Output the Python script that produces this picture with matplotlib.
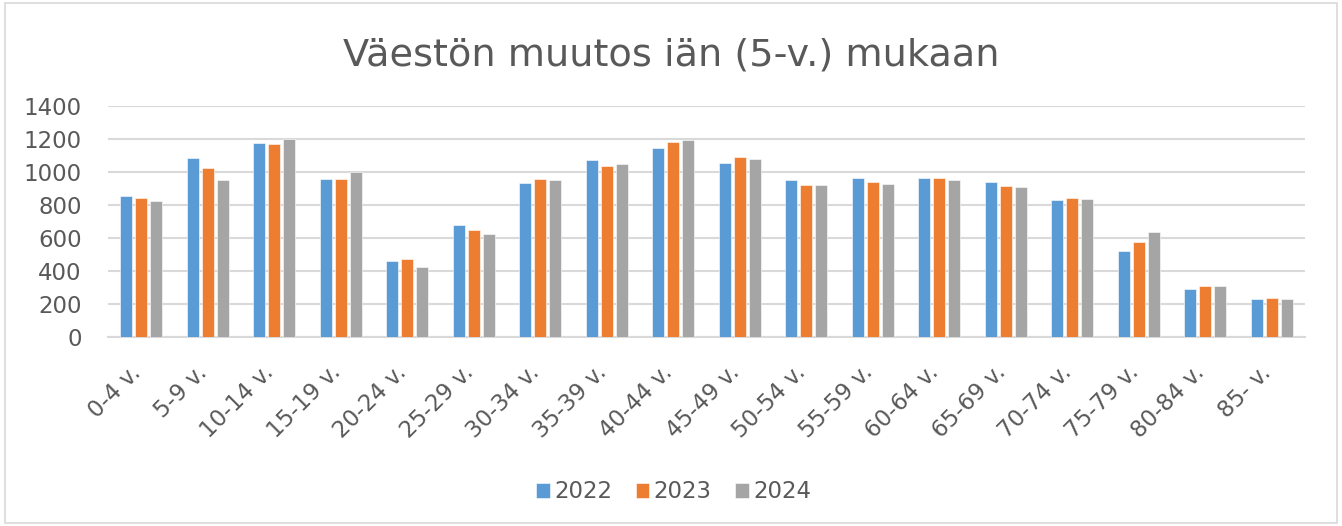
import matplotlib.pyplot as plt
import matplotlib.transforms as mtransforms
import numpy as np
from matplotlib.patches import Rectangle

age_groups = ["0-4 v.", "5-9 v.", "10-14 v.", "15-19 v.", "20-24 v.", "25-29 v.",
              "30-34 v.", "35-39 v.", "40-44 v.", "45-49 v.", "50-54 v.", "55-59 v.",
              "60-64 v.", "65-69 v.", "70-74 v.", "75-79 v.", "80-84 v.", "85- v."]
years = ["2022", "2023", "2024"]
values_2022 = [854, 1087, 1178, 957, 458, 677, 933, 1075, 1144, 1057, 949, 961,
               963, 939, 832, 521, 290, 229]
values_2023 = [840, 1024, 1172, 957, 475, 649, 959, 1034, 1183, 1091, 921, 941,
               963, 915, 844, 574, 308, 235]
values_2024 = [824, 951, 1201, 1002, 426, 627, 951, 1049, 1193, 1081, 923, 927,
               953, 907, 836, 639, 308, 231]
colors = ["#5B9BD5", "#ED7D31", "#A5A5A5"]

text_color = "#595959"
grid_color = "#D9D9D9"
plt.rcParams['font.family'] = ['DejaVu Sans']

fig = plt.figure(figsize=(13.42, 5.26), dpi=100)
fig.patches.append(Rectangle((0.004, 0.006), 0.992, 0.988, transform=fig.transFigure,
                             fill=False, edgecolor=grid_color, linewidth=1.2))

ax = fig.add_axes([0.0805, 0.3593, 0.892, 0.4392])
x = np.arange(len(age_groups))
width = 0.18
step = 0.225
for i, (series, year) in enumerate(zip([values_2022, values_2023, values_2024], years)):
    ax.bar(x + (i - 1) * step, series, width=width, color=colors[i], label=year,
           edgecolor="white", linewidth=0.4, zorder=3)

ax.set_xlim(-0.5, len(age_groups) - 0.5)
ax.set_ylim(0, 1400)
ax.set_yticks(range(0, 1401, 200))
ax.yaxis.grid(True, color=grid_color, linewidth=1.5, zorder=0)
for side in ["top", "right", "left"]:
    ax.spines[side].set_visible(False)
ax.spines["bottom"].set_color(grid_color)
ax.spines["bottom"].set_linewidth(1.5)
ax.tick_params(axis="both", length=0, labelsize=16.5, labelcolor=text_color)
ax.tick_params(axis="y", pad=19)
ax.set_xticks(x)
ax.set_xticklabels(age_groups, rotation=45, ha="right", va="center", rotation_mode="anchor")
ax.tick_params(axis="x", pad=23)
shift = mtransforms.ScaledTranslation(-4 / 100, 0, fig.dpi_scale_trans)
for label in ax.get_xticklabels():
    label.set_transform(label.get_transform() + shift)

fig.text(0.5, 0.8764, "Väestön muutos iän (5-v.) mukaan", ha="center", va="baseline",
         fontsize=27.5, color=text_color)

fig.legend(loc="center", bbox_to_anchor=(0.502, 0.065), ncol=3, frameon=False,
           fontsize=16.5, labelcolor=text_color, handlelength=0.6, handleheight=0.6,
           handletextpad=0.2, columnspacing=1.0)

fig.savefig("out.png", dpi=100)
